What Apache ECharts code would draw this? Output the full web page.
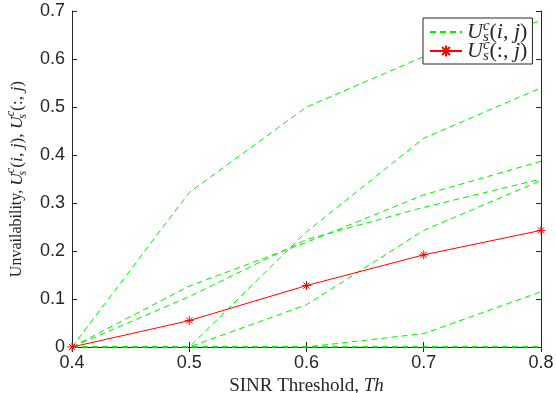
<!DOCTYPE html>
<html>
<head>
<meta charset="utf-8">
<script src="https://cdn.jsdelivr.net/npm/echarts@6/dist/echarts.min.js"></script>
<style>
html, body { margin: 0; padding: 0; background: #fff; }
#chart { width: 556px; height: 393px; }
</style>
</head>
<body>
<div id="chart"></div>
<script>
// SINR thresholds on the x axis
var thresholds = [0.4, 0.5, 0.6, 0.7, 0.8];
var xTicks = [0.4, 0.5, 0.6, 0.7, 0.8];
var yTicks = [0, 0.1, 0.2, 0.3, 0.4, 0.5, 0.6, 0.7];

// unavailability of each link (green dashed)
var link1 = [0, 0.322, 0.500, 0.605, 0.680];
var link2 = [0, 0, 0.240, 0.435, 0.540];
var link3 = [0, 0.127, 0.218, 0.317, 0.387];
var link4 = [0, 0.105, 0.224, 0.291, 0.350];
var link5 = [0, 0, 0.088, 0.243, 0.347];
var link6 = [0, 0, 0, 0.028, 0.115];
var link7 = [0, 0, 0, 0, 0];
var link8 = [0, 0, 0, 0, 0];
var link9 = [0, 0, 0, 0, 0];
var link10 = [0, 0, 0, 0, 0];

// overall unavailability (red, asterisks)
var overall = [0, 0.055, 0.128, 0.192, 0.243];

var greenName = 'U_s^c(i, j)';
var redName = 'U_s^c(:, j)';

var serif = 'Liberation Serif';
var axisColor = '#262626';
var asterisk = 'path://M0,-5L0,5M-5,0L5,0M-3.5,-3.5L3.5,3.5M-3.5,3.5L3.5,-3.5';

// text size, math size, line height
function mathRich(size, msize, lh) {
    var small = Math.round(msize * 0.68);
    return {
        t: {fontFamily: serif, fontSize: size, color: axisColor, lineHeight: lh},
        m: {fontFamily: serif, fontSize: msize, color: axisColor, lineHeight: lh},
        it: {fontFamily: serif, fontStyle: 'italic', fontSize: msize, color: axisColor, lineHeight: lh},
        sb: {fontFamily: serif, fontStyle: 'italic', fontSize: small, color: axisColor, verticalAlign: 'bottom', lineHeight: small + 1, width: 0},
        sp: {fontFamily: serif, fontStyle: 'italic', fontSize: small, color: axisColor, verticalAlign: 'top', lineHeight: small + 1}
    };
}

function usc(args) {
    var first = args[0] == ':' ? '{m|(:, }' : '{m|(}{it|' + args[0] + '}{m|, }';
    return '{it|U}{sb|s}{sp|c}' + first + '{it|' + args[1] + '}{m|)}';
}

function pairs(values) {
    var out = new Array();
    for (var i = 0; i < thresholds.length; i++) {
        out.push([thresholds[i], values[i]]);
    }
    return out;
}

var links = [link1, link2, link3, link4, link5, link6, link7, link8, link9, link10];
var series = new Array();
for (var k = 0; k < links.length; k++) {
    series.push({
        name: greenName,
        type: 'line',
        data: pairs(links[k]),
        symbol: 'none',
        silent: true,
        lineStyle: {color: '#00f000', width: 1, type: [6, 4]},
        itemStyle: {color: '#00f000'}
    });
}
series.push({
    name: redName,
    type: 'line',
    data: pairs(overall),
    symbol: asterisk,
    symbolSize: 9,
    silent: true,
    lineStyle: {color: '#ff0000', width: 1},
    itemStyle: {color: '#ff0000', borderColor: '#ff0000', borderWidth: 1}
});

function tickFmt(v) {
    if (v == 0) return '0';
    return v.toFixed(1);
}

var labelStyle = {formatter: tickFmt, margin: 7, fontFamily: 'Liberation Sans', fontSize: 18, color: axisColor};

var option = {
    animation: false,
    backgroundColor: '#fff',
    grid: {left: 72, right: 15, top: 11, bottom: 46, outerBoundsMode: 'none'},
    legend: {
        data: [{name: greenName, itemStyle: {opacity: 0}}, {name: redName}],
        orient: 'vertical',
        left: 423,
        top: 18,
        itemWidth: 32,
        itemHeight: 14,
        itemGap: -7,
        backgroundColor: '#fff',
        borderColor: axisColor,
        borderWidth: 1,
        borderRadius: 0,
        padding: [1, 5, 0, 6],
        selectedMode: false,
        formatter: function (name) {
            return name == greenName ? usc(['i', 'j']) : usc([':', 'j']);
        },
        textStyle: {rich: mathRich(22, 22, 26)}
    },
    xAxis: [{
        type: 'value',
        min: xTicks[0],
        max: xTicks[xTicks.length - 1],
        interval: 0.1,
        position: 'bottom',
        name: '{t|SINR Threshold, }{it|Th}',
        nameLocation: 'middle',
        nameGap: 26,
        nameTextStyle: {rich: mathRich(19, 19, 22)},
        axisLine: {lineStyle: {color: axisColor, width: 1}},
        axisTick: {inside: true, length: 5, lineStyle: {color: axisColor}},
        axisLabel: labelStyle,
        splitLine: {show: false}
    }, {
        type: 'value',
        min: xTicks[0],
        max: xTicks[xTicks.length - 1],
        interval: 0.1,
        position: 'top',
        axisLine: {lineStyle: {color: axisColor, width: 1}},
        axisTick: {inside: true, length: 5, lineStyle: {color: axisColor}},
        axisLabel: {show: false},
        splitLine: {show: false}
    }],
    yAxis: [{
        type: 'value',
        min: yTicks[0],
        max: yTicks[yTicks.length - 1],
        interval: 0.1,
        position: 'left',
        name: '{t|Unvailability, }' + usc(['i', 'j']) + '{m|, }' + usc([':', 'j']),
        nameLocation: 'middle',
        nameRotate: 90,
        nameGap: 42,
        nameTextStyle: {rich: mathRich(16, 17.5, 24)},
        axisLine: {show: true, lineStyle: {color: axisColor, width: 1}},
        axisTick: {show: true, inside: true, length: 5, lineStyle: {color: axisColor}},
        axisLabel: labelStyle,
        splitLine: {show: false}
    }, {
        type: 'value',
        min: yTicks[0],
        max: yTicks[yTicks.length - 1],
        interval: 0.1,
        position: 'right',
        axisLine: {show: true, lineStyle: {color: axisColor, width: 1}},
        axisTick: {show: true, inside: true, length: 5, lineStyle: {color: axisColor}},
        axisLabel: {show: false},
        splitLine: {show: false}
    }],
    series: series
};

var chart = echarts.init(document.getElementById('chart'), null, {renderer: 'canvas'});
chart.setOption(option);
</script>
</body>
</html>
